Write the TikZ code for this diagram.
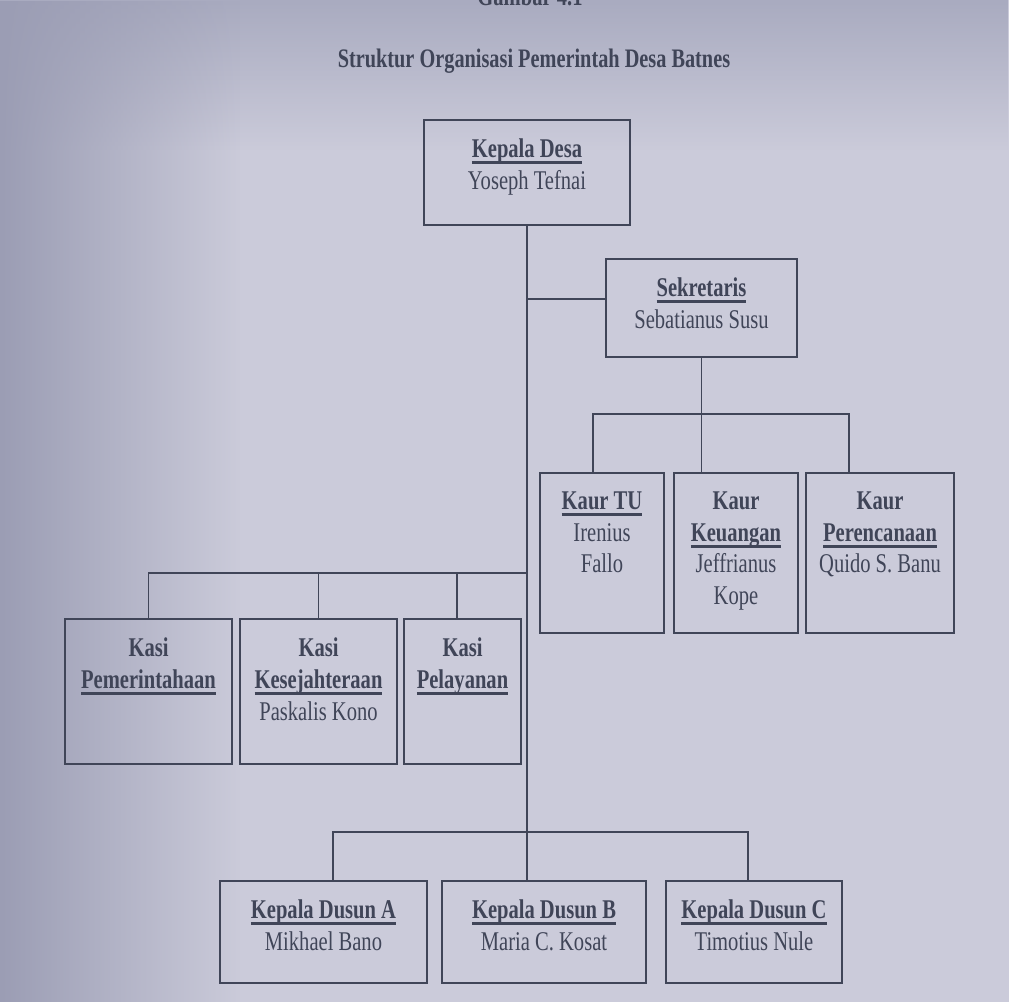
\documentclass[tikz,border=0pt]{standalone}
\usepackage{fontspec}
\setmainfont{Liberation Serif}[FakeStretch=0.76]
\usetikzlibrary{fadings}
\definecolor{kertas}{RGB}{203,203,218}
\definecolor{bayang}{RGB}{155,157,180}
\definecolor{tinta}{RGB}{64,69,88}
\newcommand{\garisbawah}[1]{\setbox0=\hbox{#1}\leavevmode\rlap{\vrule height -2.4pt depth 3.8pt width \wd0}\box0}
\begin{document}
\begin{tikzpicture}[x=0.02cm,y=-0.02cm,
  every node/.style={font=\fontsize{15.4}{18.2}\selectfont, text=tinta}]
  \tikzset{
    kotak/.style={draw=tinta, line width=1.2pt, inner sep=0pt},
    isi/.style={anchor=north, align=center, inner sep=0pt, yshift=-0.38cm},
    garis/.style={draw=tinta, line width=1.1pt}
  }
  \useasboundingbox (0,0) rectangle (1009,1002);
  \clip (0,0) rectangle (1009,1002);
  % kertas
  \fill[kertas] (0,0) rectangle (1009,1002);
  \fill[bayang!70!kertas, path fading=south] (0,0) rectangle (1009,150);
  \fill[bayang, path fading=east] (0,0) rectangle (240,1002);
  % judul
  \node[font=\fontsize{15.4}{18}\selectfont\bfseries] (gambar) at (530,-4) {Gambar 4.1};
  \node[font=\fontsize{15.2}{18}\selectfont\bfseries] (judul) at (534,61) {Struktur Organisasi Pemerintah Desa Batnes};
  % kotak
  \node[kotak, minimum width=4.12cm, minimum height=2.1cm] (desa) at (527,172.5) {};
  \node[kotak, minimum width=3.82cm, minimum height=1.96cm] (sek) at (701.5,308) {};
  \node[kotak, minimum width=2.48cm, minimum height=3.2cm] (tu) at (602,553) {};
  \node[kotak, minimum width=2.48cm, minimum height=3.2cm] (keu) at (736,553) {};
  \node[kotak, minimum width=2.96cm, minimum height=3.2cm] (per) at (880,553) {};
  \node[kotak, minimum width=3.34cm, minimum height=2.9cm] (kpem) at (148.5,691.5) {};
  \node[kotak, minimum width=3.14cm, minimum height=2.9cm] (ksej) at (318.5,691.5) {};
  \node[kotak, minimum width=2.34cm, minimum height=2.9cm] (kpel) at (462.5,691.5) {};
  \node[kotak, minimum width=4.14cm, minimum height=2.04cm] (dA) at (323.5,932) {};
  \node[kotak, minimum width=4.08cm, minimum height=2.04cm] (dB) at (544,932) {};
  \node[kotak, minimum width=3.52cm, minimum height=2.04cm] (dC) at (754,932) {};
  % isi kotak
  \node[isi] (tdesa) at (desa.north) {\garisbawah{\textbf{Kepala Desa}}\\Yoseph Tefnai};
  \node[isi] (tsek) at (sek.north) {\garisbawah{\textbf{Sekretaris}}\\Sebatianus Susu};
  \node[isi] (ttu) at (tu.north) {\garisbawah{\textbf{Kaur TU}}\\Irenius\\Fallo};
  \node[isi] (tkeu) at (keu.north) {\textbf{Kaur}\\\garisbawah{\textbf{Keuangan}}\\Jeffrianus\\Kope};
  \node[isi] (tper) at (per.north) {\textbf{Kaur}\\\garisbawah{\textbf{Perencanaan}}\\Quido S. Banu};
  \node[isi] (tkpem) at (kpem.north) {\textbf{Kasi}\\\garisbawah{\textbf{Pemerintahaan}}};
  \node[isi] (tksej) at (ksej.north) {\textbf{Kasi}\\\garisbawah{\textbf{Kesejahteraan}}\\Paskalis Kono};
  \node[isi] (tkpel) at (kpel.north) {\textbf{Kasi}\\\garisbawah{\textbf{Pelayanan}}};
  \node[isi] (tdA) at (dA.north) {\garisbawah{\textbf{Kepala Dusun A}}\\Mikhael Bano};
  \node[isi] (tdB) at (dB.north) {\garisbawah{\textbf{Kepala Dusun B}}\\Maria C. Kosat};
  \node[isi] (tdC) at (dC.north) {\garisbawah{\textbf{Kepala Dusun C}}\\Timotius Nule};
  % garis
  \coordinate (cabsek) at (desa.south |- 0,299);
  \coordinate (kasibus) at (desa.south |- 0,573);
  \coordinate (dusunbus) at (desa.south |- 0,832);
  \coordinate (kaurbus) at (sek.south |- 0,414);
  \draw[garis] (desa.south) -- (desa.south |- dB.north);
  \draw[garis] (cabsek) -- (cabsek -| sek.west);
  \draw[garis] (sek.south) -- (sek.south |- keu.north);
  \draw[garis] (593,0 |- tu.north) |- (kaurbus) -| (849,0 |- per.north);
  \draw[garis] (kpem.north) |- (kasibus);
  \draw[garis] (ksej.north) -- (ksej.north |- kasibus);
  \draw[garis] (457,0 |- kpel.north) -- (457,0 |- kasibus);
  \draw[garis] (333,0 |- dA.north) |- (dusunbus) -| (748,0 |- dC.north);
\end{tikzpicture}
\end{document}
